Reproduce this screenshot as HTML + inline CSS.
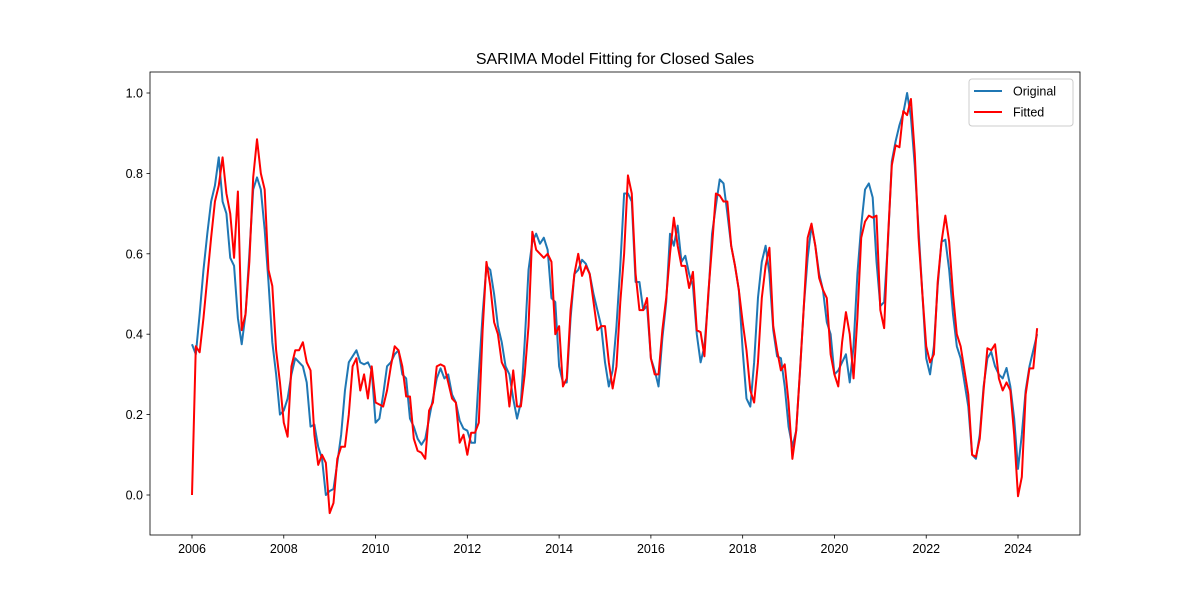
<!DOCTYPE html>
<html><head><meta charset="utf-8"><style>
body{margin:0;background:#fff}
svg{display:block;font-family:"Liberation Sans","DejaVu Sans",sans-serif}
</style></head><body>
<svg id="chart" width="1200" height="600"></svg>
<script>
const startYear = 2006;
const xTickLabels = ["2006","2008","2010","2012","2014","2016","2018","2020","2022","2024"];
const yTickLabels = ["0.0","0.2","0.4","0.6","0.8","1.0"];
const original = [
0.375,0.35,0.45,0.56,0.65,0.73,0.77,0.84,0.73,0.70,0.59,0.57,
0.44,0.375,0.45,0.60,0.76,0.79,0.76,0.66,0.53,0.38,0.30,0.20,
0.21,0.24,0.30,0.34,0.33,0.32,0.28,0.17,0.175,0.12,0.09,0.0,
0.01,0.015,0.08,0.15,0.26,0.33,0.345,0.36,0.33,0.325,0.33,0.31,
0.18,0.19,0.25,0.32,0.33,0.35,0.36,0.30,0.29,0.19,0.17,0.14,
0.125,0.14,0.19,0.24,0.29,0.315,0.29,0.30,0.25,0.23,0.185,0.165,
0.16,0.13,0.13,0.30,0.45,0.57,0.56,0.50,0.42,0.38,0.32,0.30,
0.24,0.19,0.23,0.38,0.56,0.63,0.65,0.625,0.64,0.61,0.49,0.48,
0.32,0.28,0.28,0.44,0.55,0.56,0.585,0.575,0.55,0.50,0.46,0.42,
0.33,0.27,0.31,0.42,0.57,0.75,0.75,0.73,0.53,0.53,0.46,0.47,
0.34,0.31,0.27,0.39,0.48,0.65,0.62,0.67,0.58,0.595,0.55,0.52,
0.40,0.33,0.37,0.49,0.65,0.72,0.785,0.775,0.70,0.62,0.57,0.51,
0.36,0.24,0.22,0.33,0.49,0.58,0.62,0.55,0.41,0.345,0.34,0.27,
0.17,0.12,0.16,0.31,0.47,0.59,0.67,0.62,0.55,0.51,0.43,0.40,
0.30,0.31,0.33,0.35,0.28,0.37,0.55,0.67,0.76,0.775,0.74,0.58,
0.47,0.48,0.63,0.83,0.88,0.92,0.95,1.0,0.94,0.82,0.66,0.50,
0.34,0.30,0.37,0.52,0.63,0.635,0.56,0.45,0.37,0.34,0.28,0.22,
0.10,0.09,0.15,0.27,0.34,0.356,0.32,0.30,0.29,0.316,0.27,0.19,
0.065,0.15,0.26,0.32,0.36,0.40];
const fitted = [
0.0,0.37,0.355,0.44,0.54,0.64,0.73,0.77,0.84,0.75,0.70,0.59,
0.755,0.41,0.45,0.58,0.79,0.885,0.80,0.76,0.56,0.52,0.36,0.28,
0.18,0.145,0.32,0.36,0.36,0.38,0.33,0.31,0.15,0.075,0.10,0.08,
-0.045,-0.02,0.09,0.12,0.12,0.20,0.32,0.34,0.26,0.30,0.24,0.32,
0.23,0.225,0.22,0.26,0.32,0.37,0.36,0.32,0.245,0.245,0.14,0.11,
0.105,0.09,0.21,0.23,0.32,0.325,0.32,0.28,0.24,0.23,0.13,0.15,
0.10,0.155,0.155,0.18,0.41,0.58,0.52,0.43,0.40,0.33,0.31,0.22,
0.31,0.22,0.22,0.30,0.42,0.655,0.61,0.60,0.59,0.60,0.58,0.40,
0.42,0.27,0.29,0.46,0.55,0.60,0.545,0.57,0.55,0.48,0.41,0.42,
0.42,0.33,0.265,0.32,0.48,0.60,0.795,0.75,0.55,0.46,0.46,0.49,
0.34,0.30,0.30,0.41,0.49,0.60,0.69,0.62,0.57,0.57,0.515,0.555,
0.41,0.405,0.345,0.50,0.62,0.75,0.745,0.73,0.73,0.62,0.57,0.51,
0.43,0.36,0.26,0.23,0.33,0.49,0.57,0.615,0.42,0.36,0.31,0.325,
0.23,0.09,0.16,0.31,0.47,0.64,0.675,0.62,0.54,0.51,0.49,0.35,
0.30,0.27,0.38,0.455,0.40,0.29,0.44,0.64,0.68,0.695,0.69,0.695,
0.46,0.415,0.64,0.82,0.87,0.865,0.955,0.945,0.985,0.85,0.64,0.50,
0.37,0.33,0.35,0.53,0.63,0.695,0.63,0.50,0.40,0.37,0.31,0.25,
0.10,0.095,0.14,0.26,0.365,0.36,0.375,0.29,0.26,0.28,0.26,0.15,
-0.003,0.045,0.25,0.315,0.315,0.415];

const NS="http://www.w3.org/2000/svg";
const svg=document.getElementById('chart');
const L=150,R=1080,T=72,B=535;
const x=t=>192+(t-2006)*(1018-192)/18;
const y=v=>495-v*(495-93);
function el(tag,attrs,parent){const e=document.createElementNS(NS,tag);for(const k in attrs)e.setAttribute(k,attrs[k]);(parent||svg).appendChild(e);return e;}

const title=el('text',{x:615,y:64,'text-anchor':'middle','font-size':16,fill:'#000'});
title.textContent='SARIMA Model Fitting for Closed Sales';



xTickLabels.forEach(lbl=>{
  const px=x(+lbl);
  const tk=el('line',{x1:px,x2:px,y1:B,y2:B+3.5,stroke:'#000','stroke-width':0.8});
  
  
  const t=el('text',{x:px,y:B+18,'text-anchor':'middle','font-size':12.5});
  t.textContent=lbl;
  
  
});
yTickLabels.forEach(lbl=>{
  const py=y(+lbl);
  const tk=el('line',{x1:L-3.5,x2:L,y1:py,y2:py,stroke:'#000','stroke-width':0.8});
  
  
  const t=el('text',{x:L-7,y:py+4.5,'text-anchor':'end','font-size':12.5});
  t.textContent=lbl;
  
  
});

function series(arr,color,name){
  const pts=arr.map((v,i)=>x(startYear+i/12).toFixed(2)+','+y(v).toFixed(2)).join(' ');
  const p=el('polyline',{points:pts,fill:'none',stroke:color,'stroke-width':2,'stroke-linejoin':'round'});
  
  
}
series(original,'#1f77b4','original-line');
series(fitted,'#ff0000','fitted-line');

const frame=el('rect',{x:L,y:T,width:R-L,height:B-T,fill:'none',stroke:'#000','stroke-width':0.8});



const lg=el('g',{});


el('rect',{x:969,y:79,width:104,height:47,rx:3,fill:'#fff',stroke:'#ccc','stroke-width':1},lg);
[['Original','#1f77b4',91],['Fitted','#ff0000',112]].forEach(([n,c,yy])=>{
  const ln=el('line',{x1:974,x2:1002,y1:yy,y2:yy,stroke:c,'stroke-width':2},lg);
  
  
  const t=el('text',{x:1013,y:yy+4.5,'font-size':12.5},lg);
  t.textContent=n;
  
  
});
</script>
</body></html>
